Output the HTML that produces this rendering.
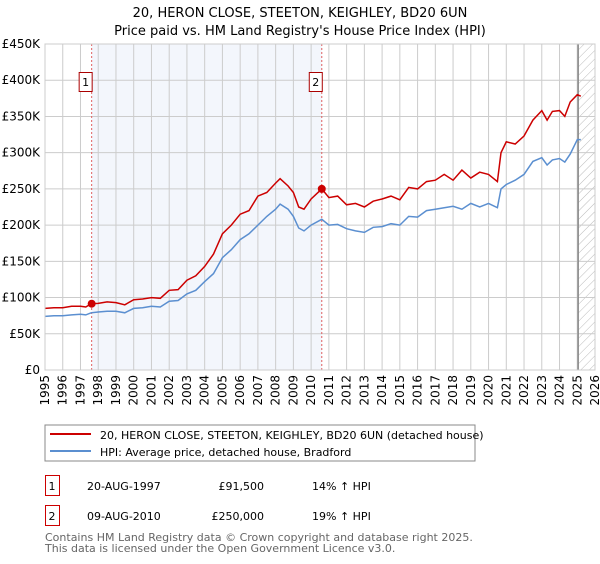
<!DOCTYPE html>
<html><head><meta charset="utf-8"><style>
body{margin:0;background:#fff;font-family:"DejaVu Sans","Liberation Sans",sans-serif}
svg text{font-family:"DejaVu Sans","Liberation Sans",sans-serif}
</style></head><body>
<svg id="c" width="600" height="560" xmlns="http://www.w3.org/2000/svg">
<defs><pattern id="hatch" width="6" height="6" patternUnits="userSpaceOnUse" patternTransform="rotate(45)"><line x1="0" y1="0" x2="0" y2="6" stroke="#bbb" stroke-width="1"/></pattern></defs>
<text x="300" y="17" text-anchor="middle" font-size="13">20, HERON CLOSE, STEETON, KEIGHLEY, BD20 6UN</text>
<text x="300" y="35" text-anchor="middle" font-size="13">Price paid vs. HM Land Registry's House Price Index (HPI)</text>
<g id="plot"></g>
<rect x="45" y="425" width="430" height="36" fill="#fff" stroke="#888"/>
<line x1="50" y1="434" x2="91" y2="434" stroke="#cc0000" stroke-width="2"/>
<text x="100" y="439" font-size="11">20, HERON CLOSE, STEETON, KEIGHLEY, BD20 6UN (detached house)</text>
<line x1="50" y1="451" x2="91" y2="451" stroke="#5b8fd0" stroke-width="2"/>
<text x="100" y="456" font-size="11">HPI: Average price, detached house, Bradford</text>
<g font-size="11">
<rect x="45.5" y="475.5" width="14" height="20" fill="none" stroke="#cc0000"/>
<text x="52" y="490" text-anchor="middle">1</text>
<text x="87" y="490">20-AUG-1997</text>
<text x="264" y="490" text-anchor="end">£91,500</text>
<text x="312" y="490">14% ↑ HPI</text>
<rect x="45.5" y="505.5" width="14" height="20" fill="none" stroke="#cc0000"/>
<text x="52" y="520" text-anchor="middle">2</text>
<text x="87" y="520">09-AUG-2010</text>
<text x="264" y="520" text-anchor="end">£250,000</text>
<text x="312" y="520">19% ↑ HPI</text>
</g>
<text x="45" y="541" font-size="11" fill="#666">Contains HM Land Registry data © Crown copyright and database right 2025.</text>
<text x="45" y="552" font-size="11" fill="#666">This data is licensed under the Open Government Licence v3.0.</text>
</svg>
<script>
const yearTicks=[1995,1996,1997,1998,1999,2000,2001,2002,2003,2004,2005,2006,2007,2008,2009,2010,2011,2012,2013,2014,2015,2016,2017,2018,2019,2020,2021,2022,2023,2024,2025,2026];
const priceTicks=[0,50,100,150,200,250,300,350,400,450];
const priceTickLabels=["£0","£50K","£100K","£150K","£200K","£250K","£300K","£350K","£400K","£450K"];
const hpiDates=[1995,1995.5,1996,1996.5,1997,1997.3,1997.6,1998,1998.5,1999,1999.5,2000,2000.5,2001,2001.5,2002,2002.5,2003,2003.5,2004,2004.5,2005,2005.5,2006,2006.5,2007,2007.5,2008,2008.25,2008.7,2009,2009.3,2009.6,2010,2010.6,2011,2011.5,2012,2012.5,2013,2013.5,2014,2014.5,2015,2015.5,2016,2016.5,2017,2017.5,2018,2018.5,2019,2019.5,2020,2020.5,2020.7,2021,2021.5,2022,2022.5,2023,2023.3,2023.6,2024,2024.3,2024.6,2025,2025.2];
const hpiValues=[74,75,75,76,77,76,79,80,81,81,79,85,86,88,87,95,96,105,110,122,133,155,166,180,188,200,212,222,229,222,212,196,192,200,208,200,201,195,192,190,197,198,202,200,212,211,220,222,224,226,222,230,225,230,224,250,256,262,270,288,293,283,290,292,287,298,318,318];
const propValues=[85,86,86,88,88,87,91.5,92,94,93,90,97,98,100,99,110,111,124,130,143,160,188,200,215,220,240,245,258,264,254,245,225,222,236,250,238,240,228,230,225,233,236,240,235,252,250,260,262,270,262,276,265,273,270,260,300,315,312,323,345,358,345,357,358,350,370,380,378];
const saleDates=[1997.63,2010.6];
const salePrices=[91.5,250];
const saleLabels=["1","2"];
const X0=45,X1=595,Y0=370,Y1=44;
const xs=y=>X0+(y-1995)/(2026-1995)*(X1-X0);
const ys=v=>Y0-v/450*(Y0-Y1);
const NS="http://www.w3.org/2000/svg";
const g=document.getElementById('plot');
function mk(t,a){const e=document.createElementNS(NS,t);for(const k in a)e.setAttribute(k,a[k]);g.appendChild(e);return e;}
let e;
e=mk('rect',{x:xs(saleDates[0]),y:Y1,width:xs(saleDates[1])-xs(saleDates[0]),height:Y0-Y1,fill:'#eef2fb',opacity:0.7});


e=mk('rect',{x:xs(2025.05),y:Y1,width:X1-xs(2025.05),height:Y0-Y1,fill:'url(#hatch)'});


yearTicks.forEach(y=>{
 e=mk('line',{x1:xs(y),x2:xs(y),y1:Y1,y2:Y0,stroke:'#ccc','stroke-width':1});
 
 
 e=mk('text',{x:0,y:0,'font-size':12,'text-anchor':'end',transform:`translate(${xs(y)+4},375) rotate(-90)`});
 e.textContent=y;
 
 
});
priceTicks.forEach((v,i)=>{
 e=mk('line',{x1:X0,x2:X1,y1:ys(v),y2:ys(v),stroke:'#ccc','stroke-width':1});
 
 
 e=mk('text',{x:40,y:ys(v)+4,'font-size':12,'text-anchor':'end'});
 e.textContent=priceTickLabels[i];
 
 
});
e=mk('line',{x1:xs(2025.05),x2:xs(2025.05),y1:Y1,y2:Y0,stroke:'#888','stroke-width':1.5});


saleDates.forEach((d,i)=>{
 e=mk('line',{x1:xs(d),x2:xs(d),y1:Y1,y2:Y0,stroke:'#e06060','stroke-width':1,'stroke-dasharray':'2,2'});
 
 
 e=mk('rect',{x:xs(d)-12.5,y:72.5,width:13,height:19,fill:'#fff',stroke:'#aa0000'});
 
 
 e=mk('text',{x:xs(d)-6,y:86,'font-size':11,'text-anchor':'middle'});
 e.textContent=saleLabels[i];
 
 
});
function path(vals){return hpiDates.map((d,i)=>(i?'L':'M')+xs(d).toFixed(1)+','+ys(vals[i]).toFixed(1)).join('');}
e=mk('path',{d:path(hpiValues),fill:'none',stroke:'#5b8fd0','stroke-width':1.5});


e=mk('path',{d:path(propValues),fill:'none',stroke:'#cc0000','stroke-width':1.5});


saleDates.forEach((d,i)=>{
 e=mk('circle',{cx:xs(d),cy:ys(salePrices[i]),r:4,fill:'#cc0000'});
 
 
});
e=mk('rect',{x:X0,y:Y1,width:X1-X0,height:Y0-Y1,fill:'none',stroke:'#ccc'});


</script>
</body></html>
